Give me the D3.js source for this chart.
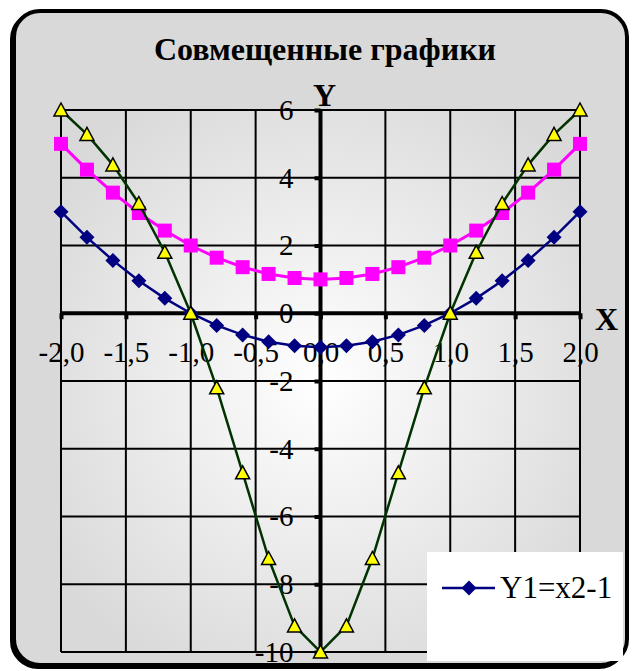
<!DOCTYPE html>
<html>
<head>
<meta charset="utf-8">
<script src="https://cdn.jsdelivr.net/npm/d3@7"></script>
<style>
  body { margin: 0; background: #fff; }
  svg { display: block; }
</style>
</head>
<body>
<svg id="chart"></svg>
<script>
const xVals = [-2, -1.8, -1.6, -1.4, -1.2, -1, -0.8, -0.6, -0.4, -0.2, 0, 0.2, 0.4, 0.6, 0.8, 1, 1.2, 1.4, 1.6, 1.8, 2]
const y1Vals = [3, 2.24, 1.56, 0.96, 0.44, 0, -0.36, -0.64, -0.84, -0.96, -1, -0.96, -0.84, -0.64, -0.36, 0, 0.44, 0.96, 1.56, 2.24, 3]
const y2Vals = [5, 4.24, 3.56, 2.96, 2.44, 2, 1.64, 1.36, 1.16, 1.04, 1, 1.04, 1.16, 1.36, 1.64, 2, 2.44, 2.96, 3.56, 4.24, 5]
const y3Vals = [6, 5.28, 4.38, 3.24, 1.8, 0, -2.2, -4.71, -7.24, -9.23, -10, -9.23, -7.24, -4.71, -2.2, 0, 1.8, 3.24, 4.38, 5.28, 6]
const xTicks = [-2, -1.5, -1, -0.5, 0, 0.5, 1, 1.5, 2]
const yTicks = [-10, -8, -6, -4, -2, 0, 2, 4, 6]
const seriesNames = ['Y1=x2-1', 'Y2=x2+1', 'Y3']

const W = 633, H = 671
const FONT = 'Liberation Serif'

const svg = d3.select('#chart')
    .attr('width', W)
    .attr('height', H)

// background gradient for plot area
const defs = svg.append('defs')
const grad = defs.append('radialGradient')
    .attr('id', 'plotFill')
    .attr('cx', '50%').attr('cy', '50%').attr('r', '62%')
grad.append('stop').attr('offset', '0%').attr('stop-color', '#ffffff')
grad.append('stop').attr('offset', '100%').attr('stop-color', '#d9d9d9')

// chart area (with a small shadow to the lower left)
svg.append('rect')
    .attr('x', 12).attr('y', 13)
    .attr('width', 613).attr('height', 654)
    .attr('rx', 26).attr('ry', 26)
    .attr('fill', 'none')
    .attr('stroke', '#000')
    .attr('stroke-width', 4)
svg.append('rect')
    .attr('x', 14).attr('y', 11)
    .attr('width', 613).attr('height', 654)
    .attr('rx', 26).attr('ry', 26)
    .attr('fill', '#d9d9d9')
    .attr('stroke', '#000')
    .attr('stroke-width', 4)

const x = d3.scaleLinear().domain([-2, 2]).range([61, 580])
const y = d3.scaleLinear().domain([-10, 6]).range([652, 110])

svg.append('rect')
    .attr('x', x(-2)).attr('y', y(6))
    .attr('width', x(2) - x(-2)).attr('height', y(-10) - y(6))
    .attr('fill', 'url(#plotFill)')

// grid
svg.append('g')
    .selectAll('line')
    .data(xTicks)
    .join('line')
    .attr('x1', d => x(d)).attr('x2', d => x(d))
    .attr('y1', y(6)).attr('y2', y(-10))
    .attr('stroke', '#000').attr('stroke-width', 2)

svg.append('g')
    .selectAll('line')
    .data(yTicks)
    .join('line')
    .attr('x1', x(-2)).attr('x2', x(2))
    .attr('y1', d => y(d)).attr('y2', d => y(d))
    .attr('stroke', '#000').attr('stroke-width', 2)

// axes
const loc = d3.formatLocale({ decimal: ',', thousands: ' ', grouping: [3], currency: ['', ''], minus: '-' })
const fmtX = loc.format('.1f')
const fmtY = loc.format('d')

const xAxis = svg.append('g')
    .attr('transform', 'translate(0,' + y(0) + ')')
    .call(d3.axisBottom(x).tickValues(xTicks).tickSize(6).tickPadding(22).tickFormat(fmtX))
xAxis.attr('font-family', FONT).attr('font-size', 29)
xAxis.select('.domain').attr('stroke-width', 4).attr('d', 'M' + x(-2) + ',0H' + x(2))
xAxis.selectAll('.tick line').attr('stroke-width', 4)
xAxis.selectAll('text')
    .attr('font-family', FONT)
    .attr('font-size', 29)
    .attr('fill', '#000')

const yAxis = svg.append('g')
    .attr('transform', 'translate(' + x(0) + ',0)')
    .call(d3.axisLeft(y).tickValues(yTicks).tickSize(6).tickPadding(21).tickFormat(fmtY))
yAxis.attr('font-family', FONT).attr('font-size', 29)
yAxis.select('.domain').attr('stroke-width', 4).attr('d', 'M0,' + y(6) + 'V' + y(-10))
yAxis.selectAll('.tick line').attr('stroke-width', 4)
yAxis.selectAll('text')
    .attr('font-family', FONT)
    .attr('font-size', 29)
    .attr('fill', '#000')

// axis titles
svg.append('text')
    .attr('x', 313).attr('y', 106)
    .attr('font-family', FONT)
    .attr('font-size', 32).attr('font-weight', 'bold')
    .text('Y')
svg.append('text')
    .attr('x', 595).attr('y', 330)
    .attr('font-family', FONT)
    .attr('font-size', 32).attr('font-weight', 'bold')
    .text('X')

// title
svg.append('text')
    .attr('x', 325).attr('y', 60)
    .attr('text-anchor', 'middle')
    .attr('font-family', FONT)
    .attr('font-size', 32).attr('font-weight', 'bold')
    .text('Совмещенные графики')

// series
const line = d3.line()
    .x((d, i) => x(xVals[i]))
    .y(d => y(d))

const diamond = 'M0,-7.5L7.5,0L0,7.5L-7.5,0Z'
const square = 'M-7,-7H7V7H-7Z'
const triangle = 'M0,-7L7,6L-7,6Z'

const series = [
    { name: seriesNames[0], vals: y1Vals, color: '#000080', width: 2.5, marker: diamond, fill: '#000080', stroke: 'none' },
    { name: seriesNames[1], vals: y2Vals, color: '#ff00ff', width: 3, marker: square, fill: '#ff00ff', stroke: 'none' },
    { name: seriesNames[2], vals: y3Vals, color: '#003300', width: 2.5, marker: triangle, fill: '#ffff00', stroke: '#000' }
]

series.forEach(s => {
    svg.append('path')
        .datum(s.vals)
        .attr('fill', 'none')
        .attr('stroke', s.color)
        .attr('stroke-width', s.width)
        .attr('d', line)
    svg.append('g')
        .selectAll('path')
        .data(s.vals)
        .join('path')
        .attr('transform', (d, i) => 'translate(' + x(xVals[i]) + ',' + y(d) + ')')
        .attr('d', s.marker)
        .attr('fill', s.fill)
        .attr('stroke', s.stroke)
        .attr('stroke-width', 1.5)
})

// legend (only first entry fits)
const lg = svg.append('g').attr('transform', 'translate(427,552)')
lg.append('rect')
    .attr('width', 196).attr('height', 109)
    .attr('fill', '#fff')
lg.append('line')
    .attr('x1', 15).attr('x2', 68).attr('y1', 36).attr('y2', 36)
    .attr('stroke', series[0].color).attr('stroke-width', 2.5)
lg.append('path')
    .attr('transform', 'translate(42,36)')
    .attr('d', diamond)
    .attr('fill', series[0].fill)
lg.append('text')
    .attr('x', 73).attr('y', 46)
    .attr('font-family', FONT)
    .attr('font-size', 31)
    .text(series[0].name)
</script>
</body>
</html>
